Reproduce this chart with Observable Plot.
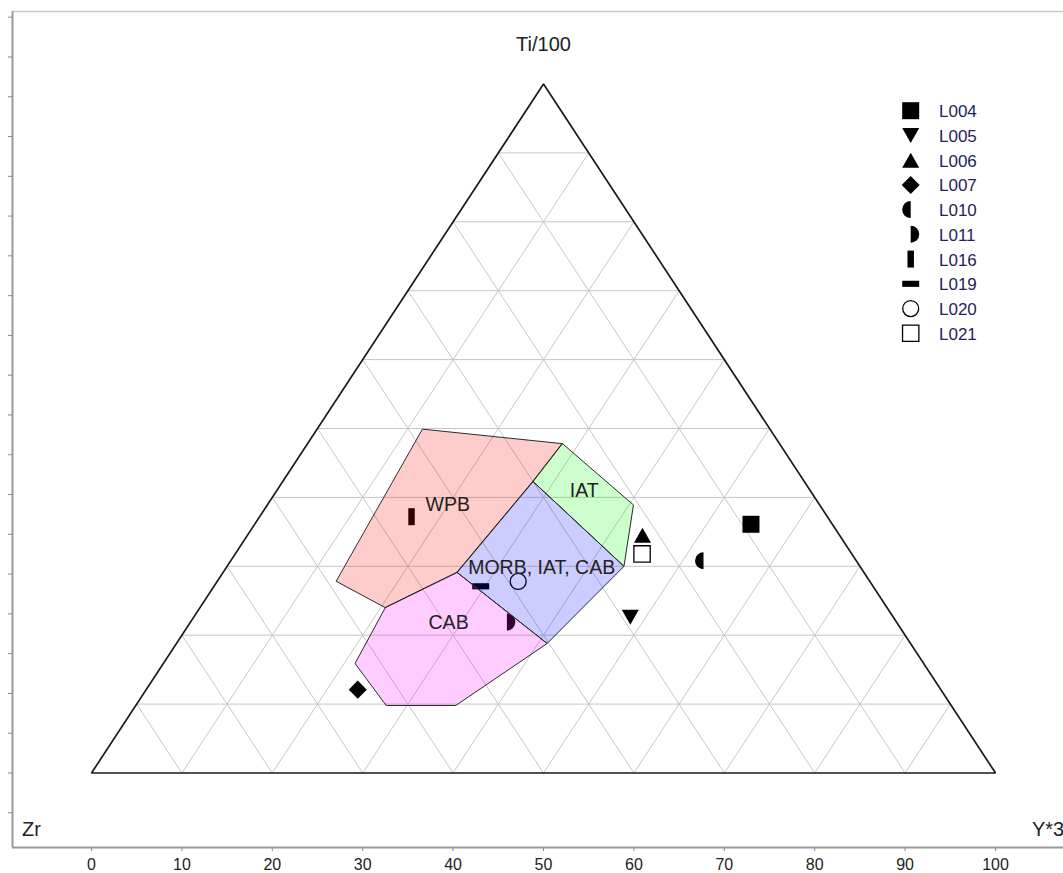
<!DOCTYPE html>
<html>
<head>
<meta charset="utf-8">
<script src="https://cdn.jsdelivr.net/npm/d3@7"></script>
<script src="https://cdn.jsdelivr.net/npm/@observablehq/plot@0.6"></script>
<style>
  html, body { margin: 0; padding: 0; background: #fff; }
  #chart { position: relative; width: 1063px; height: 873px; overflow: hidden; }
  #chart svg { display: block; }
  #legend { position: absolute; left: 0; top: 0; pointer-events: none; }
</style>
</head>
<body>
<div id="chart"></div>
<script>
// Samples: Ti/100 and Y*3 percentages (Zr is the remainder)
const samples    = ["L004", "L005", "L006", "L007", "L010", "L011", "L016", "L019", "L020", "L021"];
const sampleTi   = [36.1, 22.6, 34.5, 12.1, 30.8, 21.9, 37.2, 27.1, 27.8, 31.8];
const sampleY3   = [54.9, 48.3, 43.7, 23.4, 52.3, 35.0, 16.8, 29.5, 33.3, 45.0];
const sampleMark = ["square", "triangleDown", "triangleUp", "diamond", "halfLeft",
                    "halfRight", "barV", "barH", "circle", "squareOpen"];

// Discrimination fields (Ti/100 %, Y*3 %) for each vertex
const wpbTi  = [49.9, 47.8, 42.3, 29.1, 24.0, 27.8];
const wpbY3  = [11.7, 28.2, 27.7, 25.9, 20.5, 13.2];
const iatTi  = [47.8, 38.9, 30.0, 42.3];
const iatY3  = [28.2, 40.5, 43.9, 27.7];
const morbTi = [42.3, 30.0, 18.8, 29.1];
const morbY3 = [27.7, 43.9, 41.0, 25.9];
const cabTi  = [29.1, 18.8, 9.8, 9.8, 15.9, 24.0];
const cabY3  = [25.9, 41.0, 35.4, 27.7, 21.2, 20.5];

const fieldNames   = ["WPB", "IAT", "MORB, IAT, CAB", "CAB"];
const fieldColors  = ["#ff0000", "#00ff00", "#0000ff", "#ff00ff"];
const fieldLabelTi = [39.0, 41.0, 29.8, 21.8];
const fieldLabelY3 = [19.9, 34.0, 34.9, 28.6];

const gridLevels  = [10, 20, 30, 40, 50, 60, 70, 80, 90];
const xTickValues = [0, 10, 20, 30, 40, 50, 60, 70, 80, 90, 100];
const yTickValues = d3.range(-5, 96, 5);
const vertexNames = ["Zr", "Ti/100", "Y*3"];

// Ternary (Ti, Y*3) -> Cartesian plane: base 0..100, apex height 100*sqrt(3)/2
const H = Math.sqrt(3) / 2;
const toXY = (ti, y3) => ({x: y3 + ti / 2, y: ti * H});

// Marker shapes (draw(context, size) like d3 symbol types; u = nominal width)
const shapes = {
  square:     {draw(c, s) { const u = Math.sqrt(s), h = u / 2; c.rect(-h, -h, u, u); }},
  squareOpen: {draw(c, s) { const u = Math.sqrt(s) * 0.96, h = u / 2; c.rect(-h, -h, u, u); }},
  triangleDown: {draw(c, s) { const u = Math.sqrt(s); c.moveTo(-u / 2, -0.44 * u); c.lineTo(u / 2, -0.44 * u); c.lineTo(0, 0.44 * u); c.closePath(); }},
  triangleUp:   {draw(c, s) { const u = Math.sqrt(s); c.moveTo(-u / 2, 0.44 * u); c.lineTo(u / 2, 0.44 * u); c.lineTo(0, -0.44 * u); c.closePath(); }},
  diamond:  {draw(c, s) { const d = Math.sqrt(s) * 0.53; c.moveTo(0, -d); c.lineTo(d, 0); c.lineTo(0, d); c.lineTo(-d, 0); c.closePath(); }},
  halfLeft: {draw(c, s) { const r = Math.sqrt(s) / 2; c.moveTo(0, -r); c.arc(0, 0, r, -Math.PI / 2, Math.PI / 2, true); c.closePath(); }},
  halfRight:{draw(c, s) { const r = Math.sqrt(s) / 2; c.moveTo(0, -r); c.arc(0, 0, r, -Math.PI / 2, Math.PI / 2, false); c.closePath(); }},
  barV:     {draw(c, s) { const u = Math.sqrt(s); c.rect(-0.19 * u, -u / 2, 0.38 * u, u); }},
  barH:     {draw(c, s) { const u = Math.sqrt(s); c.rect(-u / 2, -0.18 * u, u, 0.36 * u); }},
  circle:   {draw(c, s) { const r = Math.sqrt(s) * 0.47; c.moveTo(r, 0); c.arc(0, 0, r, 0, 2 * Math.PI); c.closePath(); }}
};
const openShapes = new Set(["circle", "squareOpen"]);
const markerWidth = 17;                       // px
const markerR = markerWidth / Math.sqrt(Math.PI);

// Derived mark data
const points = samples.map((id, i) => ({id, mark: sampleMark[i], ...toXY(sampleTi[i], sampleY3[i])}));

const gridLines = gridLevels.flatMap(k => [
  [[k, 0], [k, 100 - k]],        // constant Ti
  [[0, k], [100 - k, k]],        // constant Y*3
  [[0, 100 - k], [100 - k, 0]]   // constant Zr
]).flatMap((seg, i) => seg.map(([ti, y3]) => ({seg: i, ...toXY(ti, y3)})));

const outline = [[0, 0], [0, 100], [100, 0]].map(([ti, y3]) => toXY(ti, y3));

const fields = [
  [wpbTi, wpbY3], [iatTi, iatY3], [morbTi, morbY3], [cabTi, cabY3]
].map(([tis, y3s], f) => ({
  name: fieldNames[f],
  color: fieldColors[f],
  pts: tis.map((ti, j) => toXY(ti, y3s[j]))
}));

const fieldLabels = fieldNames.map((name, i) => ({name, ...toXY(fieldLabelTi[i], fieldLabelY3[i])}));

const FONT = "'Liberation Sans', Arial, Helvetica, sans-serif";

// Scale domains chosen so the frame margins (left 12, top 11, bottom 26) line up
const xDomain = [-8.739, 107.52];
const yDomain = [-9.364, 95.716];

const plot = Plot.plot({
  width: 1063,
  height: 873,
  marginLeft: 12,
  marginRight: 0,
  marginTop: 11,
  marginBottom: 26,
  x: {domain: xDomain},
  y: {domain: yDomain},
  style: {fontFamily: FONT, background: "white", color: "#222", overflow: "visible"},
  marks: [
    // frame
    Plot.ruleY([yDomain[1]], {stroke: "#c8c8c8", strokeWidth: 1.5}),
    Plot.ruleX([xDomain[0]], {stroke: "#9a9a9a", strokeWidth: 2}),
    Plot.ruleY([yDomain[0]], {stroke: "#9a9a9a", strokeWidth: 2}),
    Plot.axisY(yTickValues, {anchor: "left", tickSize: 4, tickFormat: () => "", stroke: "#8a8a8a", label: null}),
    Plot.axisX(xTickValues, {anchor: "bottom", tickSize: 4, tickPadding: 7, fontSize: 16, stroke: "#8a8a8a", fill: "#222", label: null}),

    // ternary grid
    Plot.line(gridLines, {x: "x", y: "y", z: "seg", stroke: "#c6c6c6", strokeWidth: 1}),

    // samples
    ...points.map(p => Plot.dot([p], {
      x: "x", y: "y",
      symbol: shapes[p.mark],
      r: markerR,
      fill: openShapes.has(p.mark) ? "white" : "black",
      stroke: openShapes.has(p.mark) ? "black" : "none",
      strokeWidth: 1.3
    })),

    // discrimination fields (translucent, over the samples)
    ...fields.map(f => Plot.line(f.pts, {
      x: "x", y: "y", curve: "linear-closed",
      fill: f.color, fillOpacity: 0.2,
      stroke: "#2a2a2a", strokeWidth: 1, strokeLinejoin: "miter"
    })),

    // triangle outline
    Plot.line(outline, {x: "x", y: "y", curve: "linear-closed", stroke: "#1a1a1a", strokeWidth: 1.7, strokeLinejoin: "miter"}),

    // field labels
    Plot.text(fieldLabels, {x: "x", y: "y", text: "name", fontSize: 19.5, fill: "#222", textAnchor: "middle", lineAnchor: "middle"}),

    // apex labels
    Plot.text([vertexNames[1]], {x: () => toXY(100, 0).x, y: () => toXY(100, 0).y, text: d => d, fontSize: 20, fill: "#222", lineAnchor: "bottom", dy: -33.5}),
    Plot.text([vertexNames[0]], {frameAnchor: "bottom-left", text: d => d, fontSize: 20, fill: "#222", textAnchor: "start", lineAnchor: "bottom", dx: 9.5, dy: -12}),
    Plot.text([vertexNames[2]], {frameAnchor: "bottom-right", text: d => d, fontSize: 20, fill: "#222", textAnchor: "start", lineAnchor: "bottom", dx: -31.5, dy: -12})
  ]
});

const chart = document.getElementById("chart");
chart.appendChild(plot);

// Symbol legend (upper right)
const legend = d3.select(chart).append("svg")
  .attr("id", "legend")
  .attr("width", 1063)
  .attr("height", 873);

const row = legend.selectAll("g")
  .data(points)
  .join("g")
  .attr("transform", (d, i) => `translate(910.7, ${110.7 + i * 24.73})`);

row.append("path")
  .attr("d", d => d3.symbol(shapes[d.mark], markerWidth * markerWidth)())
  .attr("fill", d => openShapes.has(d.mark) ? "white" : "black")
  .attr("stroke", d => openShapes.has(d.mark) ? "black" : "none")
  .attr("stroke-width", 1.3);

row.append("text")
  .attr("x", 28.3)
  .attr("y", 6.5)
  .attr("font-family", FONT)
  .attr("font-size", 17)
  .attr("fill", "#23235a")
  .text(d => d.id);
</script>
</body>
</html>
